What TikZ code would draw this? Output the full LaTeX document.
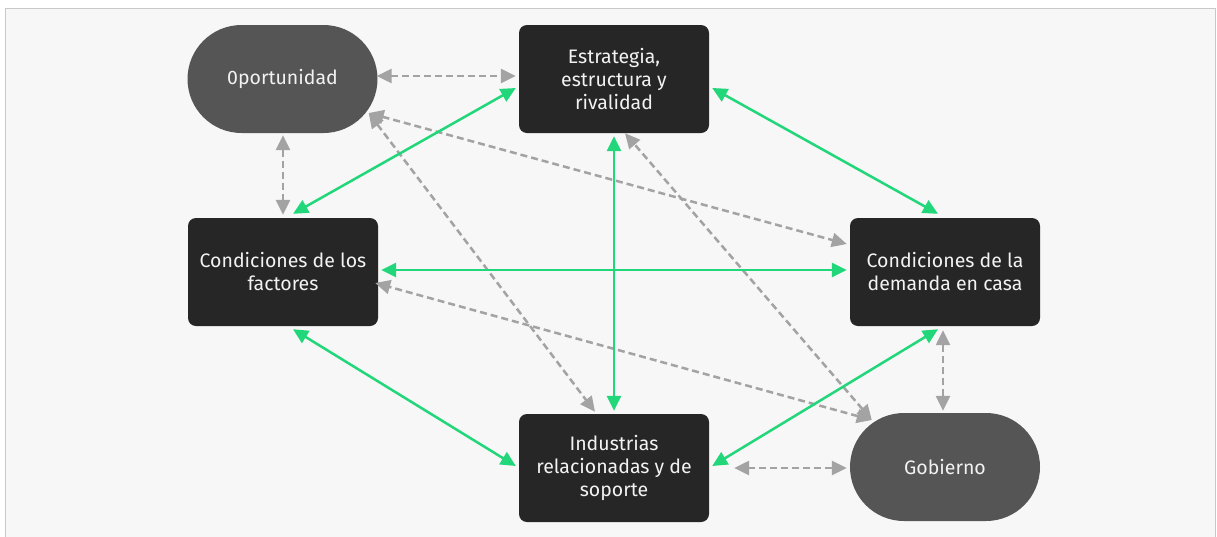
\documentclass[tikz,border=0pt]{standalone}
\usepackage{fontspec}
\setmainfont{Fira Sans}
\usetikzlibrary{arrows.meta,calc}
\definecolor{bg}{HTML}{F7F7F7}
\definecolor{frame}{HTML}{C8C8C8}
\definecolor{boxc}{HTML}{262626}
\definecolor{pillc}{HTML}{555555}
\definecolor{txt}{HTML}{F2F2F2}
\definecolor{grn}{HTML}{22D67A}
\definecolor{gry}{HTML}{A3A3A3}
\tikzset{
  box/.style={rectangle, rounded corners=8pt, fill=boxc, minimum width=190pt, minimum height=108pt, inner sep=0pt, align=center, text=txt, font=\fontsize{19.5}{23}\selectfont},
  pill/.style={rectangle, rounded corners=54pt, fill=pillc, minimum width=190pt, minimum height=108pt, inner sep=0pt, align=center, text=txt, font=\fontsize{19.5}{23}\selectfont},
  glink/.style={draw=grn, line width=2.5pt, {Triangle[length=15pt,width=14pt]}-{Triangle[length=15pt,width=14pt]}},
  dlink/.style={draw=gry, line width=2.5pt, dash pattern=on 7pt off 4pt, {Triangle[length=15pt,width=14pt]}-{Triangle[length=15pt,width=14pt]}}
}
\begin{document}
\begin{tikzpicture}[x=1pt,y=-1pt]
\useasboundingbox (0,0) rectangle (1217,536);
\fill[white] (0,0) rectangle (1217,536);
\begin{scope}
\clip (0,0) rectangle (1217,536);
\draw[frame, fill=bg, line width=1.5pt] (5.5,8.5) rectangle (1215.5,545);
\end{scope}
\node[pill] (opo) at (282.5,79) {0portunidad};
\node[box] (est) at (614,79) {Estrategia,\\estructura y\\rivalidad};
\node[box] (fac) at (283,272) {Condiciones de los\\factores};
\node[box] (dem) at (945,272) {Condiciones de la\\demanda en casa};
\node[box] (ind) at (614,468) {Industrias\\relacionadas y de\\soporte};
\node[pill] (gob) at (945,467) {Gobierno};
% dashed gray
\draw[dlink] ($(opo.east)+(-1,-3)$) -- ($(est.west)+(-3,-3)$);
\draw[dlink] ($(opo.south)+(0.5,2)$) -- ($(fac.north)+(0,-3)$);
\draw[dlink] ($(opo.east)+(-9,34)$) -- ($(dem.west)+(-3,-28)$);
\draw[dlink] ($(opo.east)+(-9,34)$) -- ($(ind.north)+(-19,-2)$);
\draw[dlink] ($(gob.west)+(22,-47)$) -- ($(est.south)+(11,0)$);
\draw[dlink] ($(gob.west)+(22,-47)$) -- ($(fac.east)+(-3,11)$);
\draw[dlink] ($(gob.north)+(-2,-2)$) -- ($(dem.south)+(-2,4)$);
\draw[dlink] ($(gob.west)+(-3,1)$) -- ($(ind.east)+(25,0)$);
% green
\draw[glink] ($(est.west)+(-3,9)$) -- ($(fac.north)+(10,-4)$);
\draw[glink] ($(est.east)+(3,9)$) -- ($(dem.north)+(-7,-4)$);
\draw[glink] ($(est.south)+(0,3)$) -- ($(ind.north)+(0,-3)$);
\draw[glink] ($(fac.east)+(3,-2)$) -- ($(dem.west)+(-3,-2)$);
\draw[glink] ($(fac.south)+(10,3)$) -- ($(ind.west)+(-3,-2)$);
\draw[glink] ($(dem.south)+(-7,3)$) -- ($(ind.east)+(3,-2)$);
\end{tikzpicture}
\end{document}
